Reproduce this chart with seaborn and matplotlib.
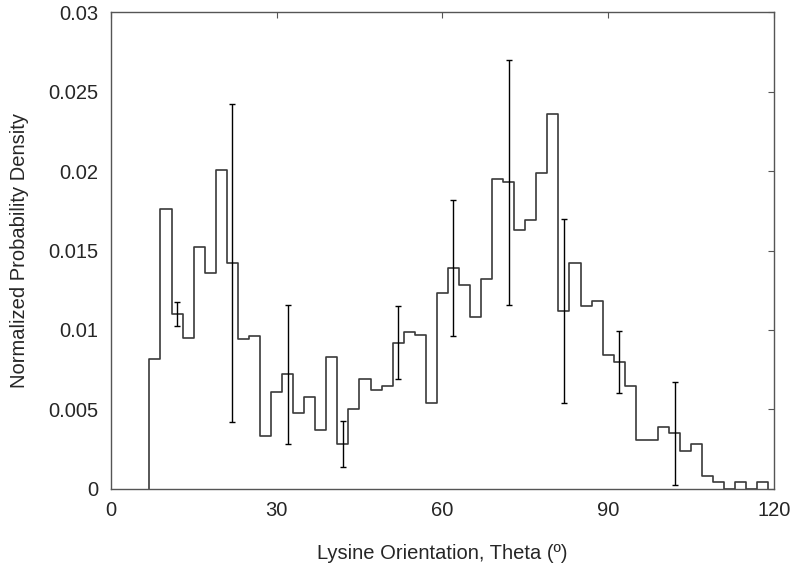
import numpy as np
import pandas as pd
import seaborn as sns
import matplotlib.pyplot as plt

# histogram bin edges (degrees) and normalized density per bin
bin_edges = list(range(7, 121, 2))
density = [
    0.0082, 0.0176, 0.0110, 0.0095, 0.0152, 0.0136, 0.0201, 0.0142,
    0.0094, 0.0096, 0.0033, 0.0061, 0.0072, 0.0048, 0.0058, 0.0037,
    0.0083, 0.0028, 0.0050, 0.0069, 0.0062, 0.0065, 0.0092, 0.0099,
    0.0097, 0.0054, 0.0123, 0.0139, 0.0128, 0.0108, 0.0132, 0.0195,
    0.0193, 0.0163, 0.0169, 0.0199, 0.0236, 0.0112, 0.0142, 0.0115,
    0.0118, 0.0084, 0.0080, 0.0065, 0.0031, 0.0031, 0.0039, 0.0035,
    0.0024, 0.0028, 0.0008, 0.0004, 0.0, 0.0004, 0.0, 0.0004,
]

# error bars: position (degrees) and half-height
err_x = [12, 22, 32, 42, 52, 62, 72, 82, 92, 102]
err_half = [0.00077, 0.0100, 0.0044, 0.00146, 0.0023, 0.0043, 0.0077, 0.0058, 0.00195, 0.00325]

x_ticks = [0, 30, 60, 90, 120]
y_ticks = [0, 0.005, 0.01, 0.015, 0.02, 0.025, 0.03]
y_tick_labels = ["0", "0.005", "0.01", "0.015", "0.02", "0.025", "0.03"]

sns.set_style("white")
plt.rcParams["font.family"] = ["Liberation Sans", "DejaVu Sans"]

fig = plt.figure(figsize=(8, 5.67), dpi=100)
ax = fig.add_axes([0.1384, 0.138, 0.8291, 0.8403])

# outline of the histogram as one step line
step = pd.DataFrame({
    "theta": [bin_edges[0]] + bin_edges[:len(density) + 1],
    "dens": [0.0] + density + [0.0],
})
sns.lineplot(data=step, x="theta", y="dens", drawstyle="steps-post",
             estimator=None, sort=False, color="#3a3a3a", linewidth=1.2, ax=ax)

err_center = [density[(x - bin_edges[0]) // 2] for x in err_x]
ax.errorbar(err_x, err_center, yerr=err_half, fmt="none", ecolor="black",
            elinewidth=1.0, capsize=2.5, capthick=1.0)

ax.set_xlim(0, 120)
ax.set_ylim(0, 0.03)
ax.set_xticks(x_ticks)
ax.set_yticks(y_ticks)
ax.set_yticklabels(y_tick_labels)
ax.tick_params(direction="in", length=4, width=0.8, color="#555555",
               top=True, right=True, labelsize=14.5, pad=9)
ax.tick_params(axis="x", pad=9)
for s in ax.spines.values():
    s.set_color("#555555")
    s.set_linewidth(1.0)

ax.set_xlabel("Lysine Orientation, Theta (º)", fontsize=14.5, labelpad=17)
ax.set_ylabel("Normalized Probability Density", fontsize=14.5, labelpad=14)

fig.savefig("out.png", dpi=100)
